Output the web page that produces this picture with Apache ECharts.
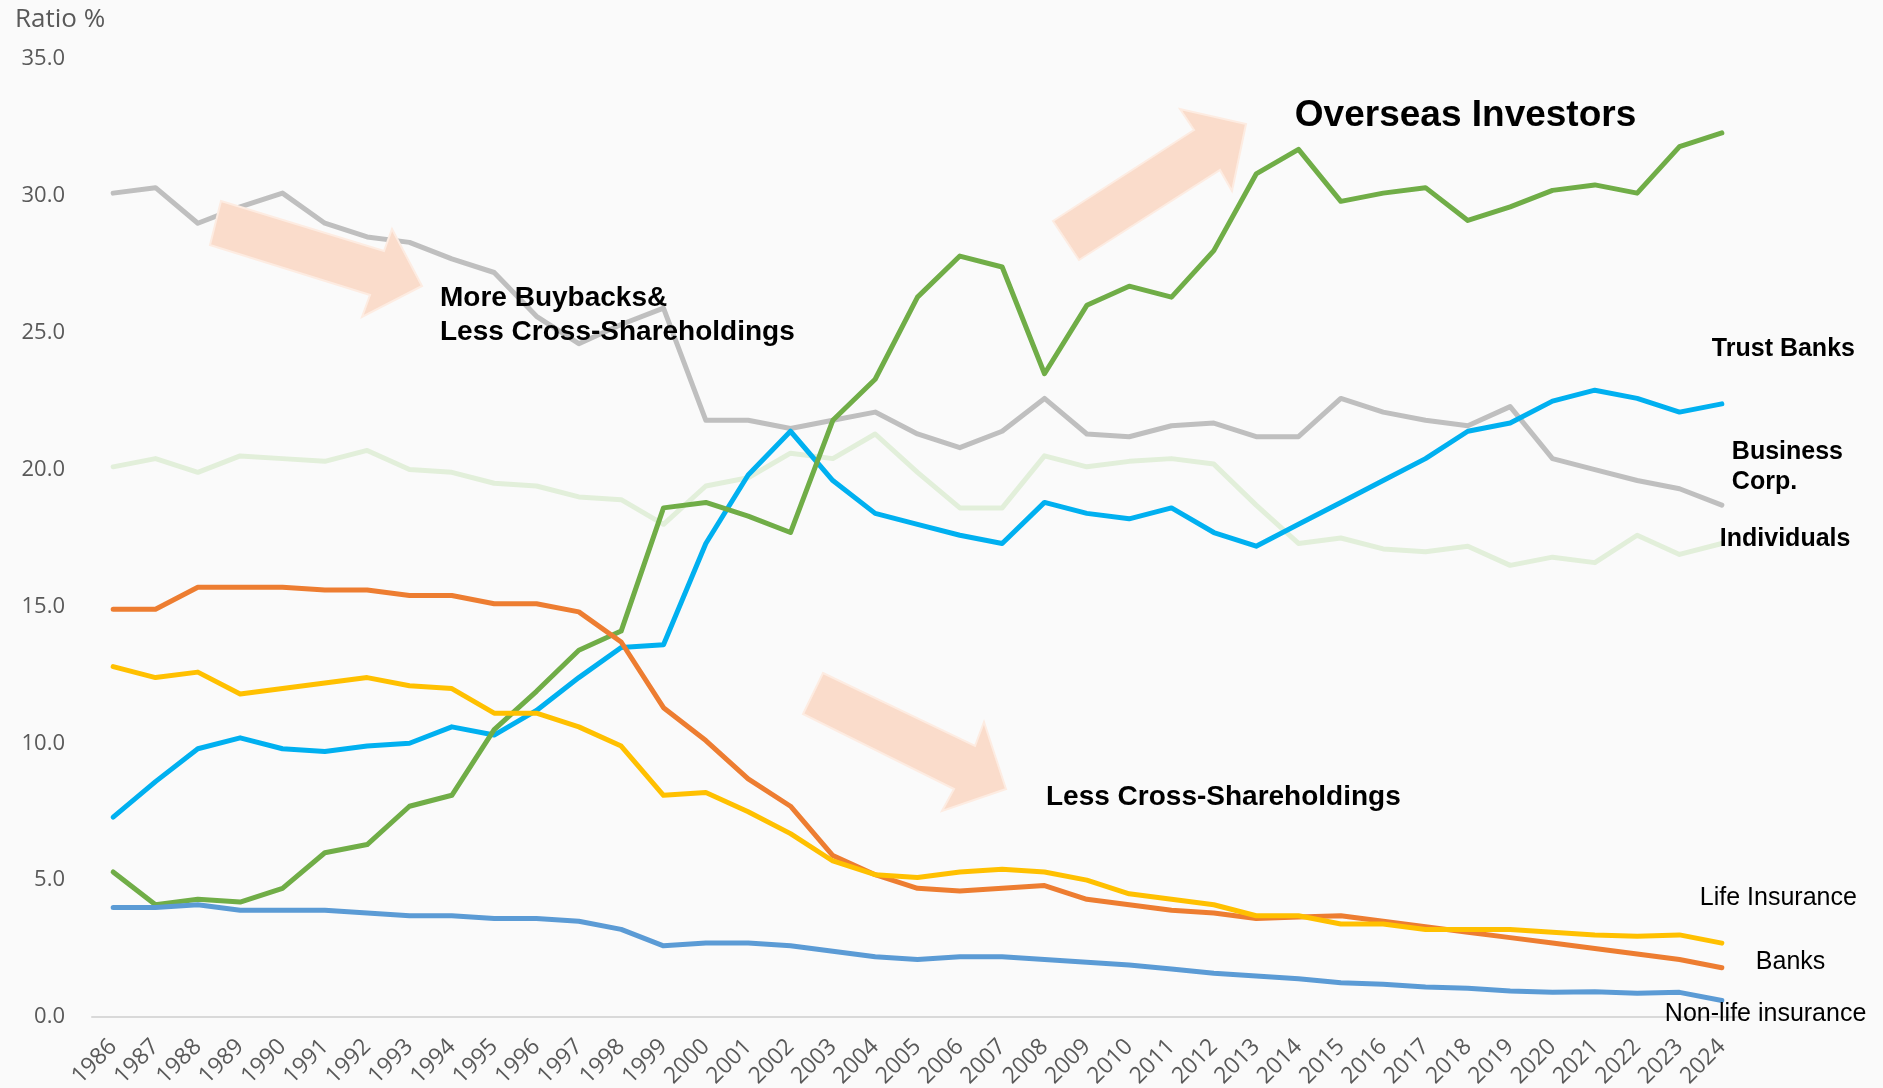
<!DOCTYPE html>
<html lang="en">
<head>
    <meta charset="UTF-8">
    <title>Shareholding ratio</title>
    <script src="https://cdn.jsdelivr.net/npm/echarts@6/dist/echarts.min.js"></script>
    <style>
        html, body {
            margin: 0;
            height: 100%;
            background: #fafafa;
        }
        #app {
            width: 1883px;
            height: 1088px;
        }
    </style>
</head>
<body>
<div id="app"></div>
<script>
    var years = [];
    for (var y = 1986; y <= 2024; y++) years.push(String(y));

    var yTicks = [0, 5, 10, 15, 20, 25, 30, 35];

    var trustBanks = [7.3, 8.6, 9.8, 10.2, 9.8, 9.7, 9.9, 10.0, 10.6, 10.3, 11.2, 12.4, 13.5, 13.6, 17.3, 19.8, 21.4, 19.6, 18.4, 18.0, 17.6, 17.3, 18.8, 18.4, 18.2, 18.6, 17.7, 17.2, 18.0, 18.8, 19.6, 20.4, 21.4, 21.7, 22.5, 22.9, 22.6, 22.1, 22.4];
    var businessCorp = [30.1, 30.3, 29.0, 29.6, 30.1, 29.0, 28.5, 28.3, 27.7, 27.2, 25.6, 24.6, 25.3, 25.9, 21.8, 21.8, 21.5, 21.8, 22.1, 21.3, 20.8, 21.4, 22.6, 21.3, 21.2, 21.6, 21.7, 21.2, 21.2, 22.6, 22.1, 21.8, 21.6, 22.3, 20.4, 20.0, 19.6, 19.3, 18.7];
    var individuals = [20.1, 20.4, 19.9, 20.5, 20.4, 20.3, 20.7, 20.0, 19.9, 19.5, 19.4, 19.0, 18.9, 18.0, 19.4, 19.7, 20.6, 20.4, 21.3, 19.9, 18.6, 18.6, 20.5, 20.1, 20.3, 20.4, 20.2, 18.7, 17.3, 17.5, 17.1, 17.0, 17.2, 16.5, 16.8, 16.6, 17.6, 16.9, 17.3];
    var overseas = [5.3, 4.1, 4.3, 4.2, 4.7, 6.0, 6.3, 7.7, 8.1, 10.5, 11.9, 13.4, 14.1, 18.6, 18.8, 18.3, 17.7, 21.8, 23.3, 26.3, 27.8, 27.4, 23.5, 26.0, 26.7, 26.3, 28.0, 30.8, 31.7, 29.8, 30.1, 30.3, 29.1, 29.6, 30.2, 30.4, 30.1, 31.8, 32.3];
    var lifeInsurance = [12.8, 12.4, 12.6, 11.8, 12.0, 12.2, 12.4, 12.1, 12.0, 11.1, 11.1, 10.6, 9.9, 8.1, 8.2, 7.5, 6.7, 5.7, 5.2, 5.1, 5.3, 5.4, 5.3, 5.0, 4.5, 4.3, 4.1, 3.7, 3.7, 3.4, 3.4, 3.2, 3.2, 3.2, 3.1, 3.0, 2.95, 3.0, 2.7];
    var banks = [14.9, 14.9, 15.7, 15.7, 15.7, 15.6, 15.6, 15.4, 15.4, 15.1, 15.1, 14.8, 13.7, 11.3, 10.1, 8.7, 7.7, 5.9, 5.2, 4.7, 4.6, 4.7, 4.8, 4.3, 4.1, 3.9, 3.8, 3.6, 3.65, 3.7, 3.5, 3.3, 3.1, 2.9, 2.7, 2.5, 2.3, 2.1, 1.8];
    var nonLife = [4.0, 4.0, 4.1, 3.9, 3.9, 3.9, 3.8, 3.7, 3.7, 3.6, 3.6, 3.5, 3.2, 2.6, 2.7, 2.7, 2.6, 2.4, 2.2, 2.1, 2.2, 2.2, 2.1, 2.0, 1.9, 1.75, 1.6, 1.5, 1.4, 1.25, 1.2, 1.1, 1.05, 0.95, 0.9, 0.92, 0.87, 0.9, 0.6];

    function line(name, data, color, label) {
        return {
            name: name,
            type: 'line',
            data: data,
            color: color,
            symbol: 'none',
            lineStyle: {width: 5, cap: 'round', join: 'round'},
            endLabel: label
        };
    }

    function endLabel(text, bold, size, dx, dy) {
        return {
            show: true,
            formatter: text,
            color: '#000',
            fontFamily: 'Liberation Sans',
            fontWeight: bold ? 'bold' : 'normal',
            fontSize: size,
            lineHeight: 30,
            align: 'left',
            offset: [dx, dy]
        };
    }

    function arrow(points) {
        return {
            type: 'polygon',
            z: 100,
            shape: {points: points},
            style: {fill: '#fadccb', stroke: '#fdece2', lineWidth: 2}
        };
    }

    function note(text, x, y, size) {
        return {
            type: 'text',
            z: 101,
            style: {
                text: text, x: x, y: y,
                fill: '#000',
                font: 'bold ' + size + 'px "Liberation Sans"',
                lineHeight: 34,
                verticalAlign: 'top'
            }
        };
    }

    var option = {
        backgroundColor: '#fafafa',
        animation: false,
        title: {
            text: 'Ratio %',
            left: 10,
            top: 2,
            textStyle: {fontFamily: 'Open Sans', fontWeight: 'normal', fontSize: 26, color: '#595959'}
        },
        grid: {left: 92, right: 140, top: 59, bottom: 71, outerBoundsMode: 'none'},
        xAxis: {
            type: 'category',
            data: years,
            boundaryGap: true,
            axisTick: {show: false},
            axisLine: {lineStyle: {color: '#d9d9d9', width: 2}},
            axisLabel: {
                interval: 0,
                rotate: 45,
                margin: 26,
                color: '#595959',
                fontFamily: 'Open Sans',
                fontSize: 23
            }
        },
        yAxis: {
            type: 'value',
            min: yTicks[0],
            max: yTicks[yTicks.length - 1],
            interval: 5,
            splitLine: {show: false},
            axisLine: {show: false},
            axisTick: {show: false},
            axisLabel: {
                margin: 27,
                color: '#595959',
                fontFamily: 'Open Sans',
                fontSize: 22,
                formatter: function (v) { return v.toFixed(1); }
            }
        },
        graphic: [
            arrow([[221, 201], [384, 251], [392, 229], [422, 286], [362, 317], [370, 295], [210, 245]]),
            arrow([[1053, 221], [1194, 130], [1180, 109], [1246, 124], [1232, 191], [1220, 170], [1079, 260]]),
            arrow([[823, 673], [975, 746], [984, 722], [1006, 789], [942, 811], [954, 789], [803, 714]]),
            note('More Buybacks&\nLess Cross-Shareholdings', 440, 281, 28),
            note('Less Cross-Shareholdings', 1046, 780, 28)
        ],
        series: [
            line('Individuals', individuals, '#e2efda', endLabel('Individuals', true, 25, -10, -4)),
            line('Business Corp.', businessCorp, '#bfbfbf', endLabel('Business\nCorp.', true, 25, 2, -38)),
            line('Trust Banks', trustBanks, '#00b0f0', endLabel('Trust Banks', true, 25, -18, -55)),
            line('Overseas Investors', overseas, '#70ad47', endLabel('Overseas Investors', true, 37, -435, -17)),
            line('Banks', banks, '#ed7d31', endLabel('Banks', false, 25, 26, -6)),
            line('Life Insurance', lifeInsurance, '#ffc000', endLabel('Life Insurance', false, 25, -30, -45)),
            line('Non-life insurance', nonLife, '#5b9bd5', endLabel('Non-life insurance', false, 25, -65, 14))
        ]
    };

    var myChart = echarts.init(document.getElementById('app'));
    myChart.setOption(option);
</script>
</body>
</html>
